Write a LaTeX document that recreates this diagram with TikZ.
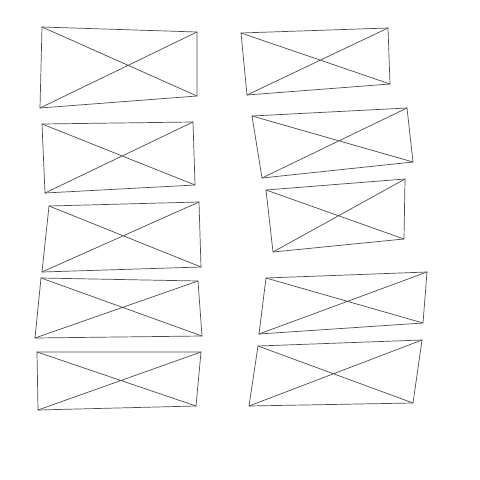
\documentclass[tikz,border=0pt]{standalone}
\usepackage{tikz}
\usetikzlibrary{calc}

\begin{document}
\begin{tikzpicture}[
                    x=0.025cm, y=-0.025cm,
                    sketch/.style={draw=black!70, line width=0.5pt, line join=round, line cap=round}
                ]
                    \useasboundingbox (0,0) rectangle (480,480);
                    % wireframe boxes: name / top-left / top-right / bottom-right / bottom-left
                    \foreach \n/\ax/\ay/\bx/\by/\cx/\cy/\dx/\dy in {
                        l1/42/27/197/32/197/96/40/108,
                        l2/42/124/193/122/195/185/45/193,
                        l3/49/206/199/202/201/267/42/272,
                        l4/41/278/198/281/202/336/35/338,
                        l5/37/352/201/352/196/406/38/410,
                        r1/241/33/388/28/390/84/247/95,
                        r2/252/116/407/108/413/162/262/178,
                        r3/266/190/405/179/404/239/273/252,
                        r4/266/278/427/272/423/323/259/334,
                        r5/258/346/422/340/413/403/249/406}{
                        \coordinate (\n-tl) at (\ax,\ay);
                        \coordinate (\n-tr) at (\bx,\by);
                        \coordinate (\n-br) at (\cx,\cy);
                        \coordinate (\n-bl) at (\dx,\dy);
                        \draw[sketch] (\n-tl) -- (\n-tr) -- (\n-br) -- (\n-bl) -- cycle;
                        \draw[sketch] (\n-tl) -- (\n-br) (\n-tr) -- (\n-bl);
                    }
                \end{tikzpicture}
\end{document}
